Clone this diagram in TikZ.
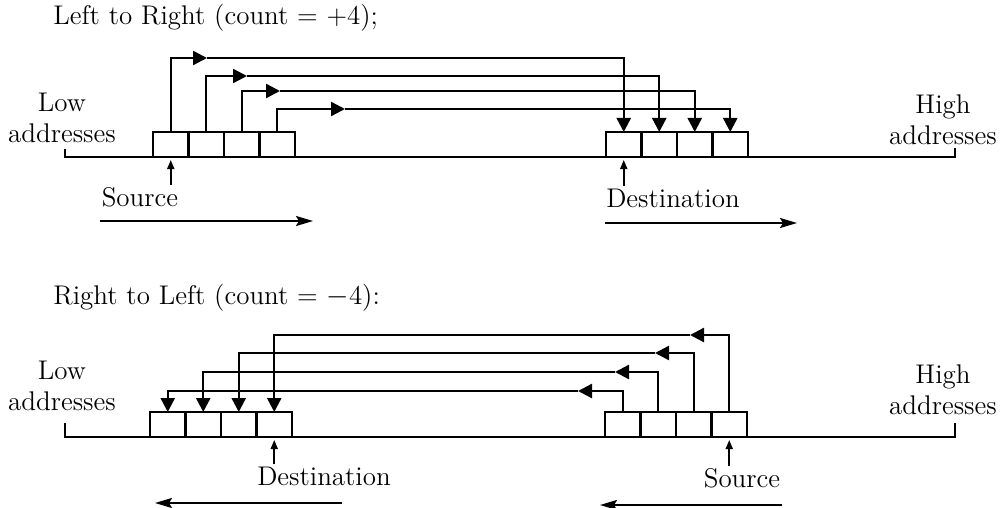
\documentclass[tikz,border=0pt]{standalone}
\usepackage{tikz}
\usetikzlibrary{arrows.meta,positioning,calc}
\tikzset{
 mv cell/.style={draw,line width=1.3pt,minimum width=17.75pt,minimum height=12.5pt,
   inner sep=0pt,outer sep=0pt},
 mv tip/.style={line width=1.2pt,-{Triangle[length=7pt,width=7pt]}},
 mv axis/.style={line width=1.3pt},
 mv pointer/.style={line width=.9pt,-{Triangle[length=4.5pt,width=3.5pt]},shorten >=1.5pt},
 mv dir/.style={line width=1pt,-{Stealth[length=8.5pt,width=5pt,inset=1.5pt]}},
 mv label/.style={font=\fontsize{13.5}{15.5}\selectfont,inner sep=0pt},
}
\begin{document}
\begin{tikzpicture}[x=.5pt,y=-.5pt]
\useasboundingbox (0,0) rectangle (1006,508);
% left to right
\node[mv label,anchor=west] (ltr) at (53,18) {Left to Right (count = +4);};
\node[mv label,align=center] (lowA) at (62,118) {Low\\addresses};
\node[mv label,align=center] (highA) at (943,120) {High\\addresses};
\coordinate (lowendA) at (65,149);
\coordinate (highendA) at (955,148);
\draw[mv axis] (lowendA) -- ++(0,8) -| (highendA);
\node[mv cell,anchor=south west] (s1) at (153,157) {};
\node[mv cell,right=0pt of s1] (s2) {};
\node[mv cell,right=0pt of s2] (s3) {};
\node[mv cell,right=0pt of s3] (s4) {};
\node[mv cell,anchor=south west] (d1) at (606,157) {};
\node[mv cell,right=0pt of d1] (d2) {};
\node[mv cell,right=0pt of d2] (d3) {};
\node[mv cell,right=0pt of d3] (d4) {};
\coordinate (m1) at (207,58);
\coordinate (m2) at (247,76);
\coordinate (m3) at (280,91);
\coordinate (m4) at (345,109);
\draw[mv tip] (s1.north) |- (m1);
\draw[mv tip] (m1) -| (d1.north);
\draw[mv tip] (s2.north) |- (m2);
\draw[mv tip] (m2) -| (d2.north);
\draw[mv tip] (s3.north) |- (m3);
\draw[mv tip] (m3) -| (d3.north);
\draw[mv tip] (s4.north) |- (m4);
\draw[mv tip] (m4) -| (d4.north);
\node[mv label] (srcA) at (140,197) {Source};
\node[mv label] (dstA) at (673,198) {Destination};
\draw[mv pointer] ($(srcA.north -| s1.south)+(0,-2)$) -- (s1.south);
\draw[mv pointer] ($(dstA.north -| d1.south)+(0,-2)$) -- (d1.south);
\coordinate (dirA1) at (100,221);
\coordinate (dirA2) at (313,221);
\coordinate (dirA3) at (605,223);
\coordinate (dirA4) at (797,223);
\draw[mv dir] (dirA1) -- (dirA2);
\draw[mv dir] (dirA3) -- (dirA4);
% right to left
\node[mv label,anchor=west] (rtl) at (53,298) {Right to Left (count = $-$4):};
\node[mv label,align=center] (lowB) at (62,386) {Low\\addresses};
\node[mv label,align=center] (highB) at (943,390) {High\\addresses};
\coordinate (lowendB) at (65,423);
\coordinate (highendB) at (955,423);
\draw[mv axis] (lowendB) -- ++(0,14) -| (highendB);
\node[mv cell,anchor=south west] (t1) at (150,437) {};
\node[mv cell,right=0pt of t1] (t2) {};
\node[mv cell,right=0pt of t2] (t3) {};
\node[mv cell,right=0pt of t3] (t4) {};
\node[mv cell,anchor=south west] (r1) at (605,437) {};
\node[mv cell,right=0pt of r1] (r2) {};
\node[mv cell,right=0pt of r2] (r3) {};
\node[mv cell,right=0pt of r3] (r4) {};
\coordinate (n1) at (578,391);
\coordinate (n2) at (615,372);
\coordinate (n3) at (655,353);
\coordinate (n4) at (690,335);
\draw[mv tip] (r1.north) |- (n1);
\draw[mv tip] (n1) -| (t1.north);
\draw[mv tip] (r2.north) |- (n2);
\draw[mv tip] (n2) -| (t2.north);
\draw[mv tip] (r3.north) |- (n3);
\draw[mv tip] (n3) -| (t3.north);
\draw[mv tip] (r4.north) |- (n4);
\draw[mv tip] (n4) -| (t4.north);
\node[mv label] (dstB) at (324,476) {Destination};
\node[mv label] (srcB) at (742,478) {Source};
\draw[mv pointer] ($(dstB.north -| t4.south)+(0,-2)$) -- (t4.south);
\draw[mv pointer] ($(srcB.north -| r4.south)+(0,-2)$) -- (r4.south);
\coordinate (dirB1) at (342,503);
\coordinate (dirB2) at (155,503);
\coordinate (dirB3) at (782,505);
\coordinate (dirB4) at (600,505);
\draw[mv dir] (dirB1) -- (dirB2);
\draw[mv dir] (dirB3) -- (dirB4);
\end{tikzpicture}
\end{document}
